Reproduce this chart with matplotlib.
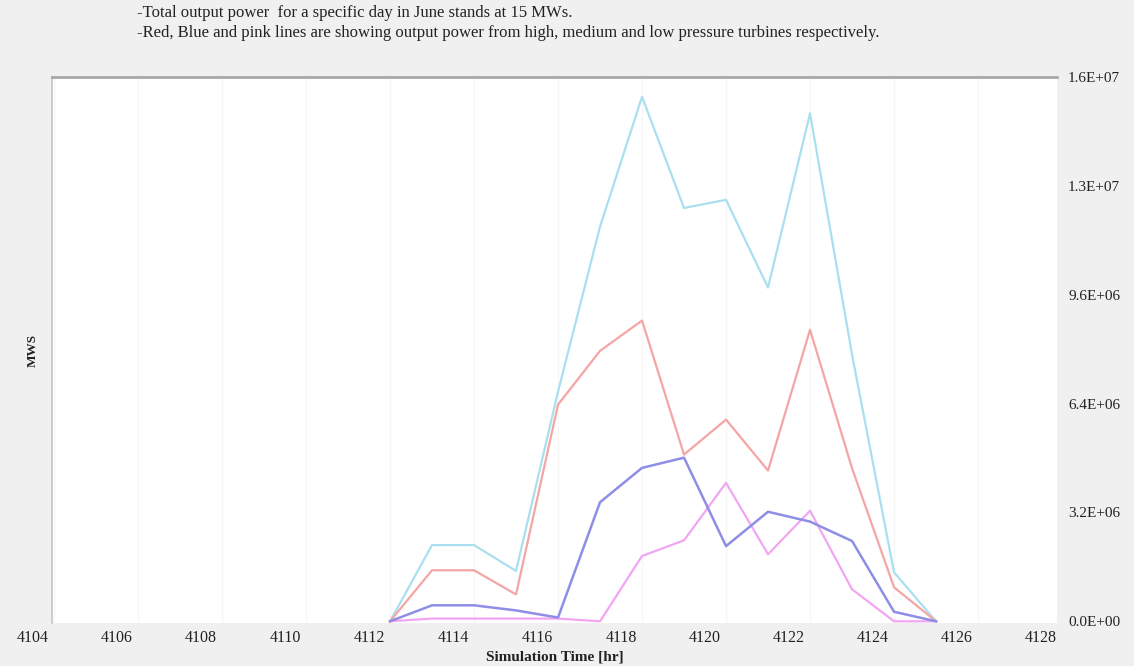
import matplotlib
matplotlib.use("Agg")
import matplotlib.pyplot as plt
import matplotlib.transforms as mtransforms

# Hourly output power (half-hour time stamps), in MW-seconds
hours = [4112.5, 4113.5, 4114.5, 4115.5, 4116.5, 4117.5, 4118.5,
         4119.5, 4120.5, 4121.5, 4122.5, 4123.5, 4124.5, 4125.5]
total_power = [0.0, 2.24e6, 2.24e6, 1.48e6, 6.75e6, 11.6e6, 15.42e6,
               12.15e6, 12.39e6, 9.81e6, 14.93e6, 7.84e6, 1.44e6, 0.0]
high_pressure = [0.0, 1.50e6, 1.50e6, 0.79e6, 6.37e6, 7.95e6, 8.84e6,
                 4.90e6, 5.93e6, 4.43e6, 8.57e6, 4.50e6, 1.00e6, 0.0]
medium_pressure = [0.0, 0.47e6, 0.47e6, 0.32e6, 0.11e6, 3.50e6, 4.51e6,
                   4.81e6, 2.21e6, 3.22e6, 2.93e6, 2.36e6, 0.28e6, 0.0]
low_pressure = [0.0, 0.08e6, 0.08e6, 0.08e6, 0.08e6, 0.0, 1.92e6,
                2.38e6, 4.07e6, 1.97e6, 3.25e6, 0.94e6, 0.0, 0.0]

x_tick_values = [4104, 4106, 4108, 4110, 4112, 4114, 4116,
                 4118, 4120, 4122, 4124, 4126, 4128]
y_tick_values = [0.0, 3.2e6, 6.4e6, 9.6e6, 12.8e6, 16.0e6]

notes = [
    "-Total output power  for a specific day in June stands at 15 MWs.",
    "-Red, Blue and pink lines are showing output power from high, medium and low pressure turbines respectively.",
]

serif = ["Liberation Serif", "DejaVu Serif"]
bg = "#f0f0f0"

fig = plt.figure(figsize=(11.34, 6.66), dpi=100, facecolor=bg)
ax = fig.add_axes([52 / 1134, 43 / 666, 1005 / 1134, 546 / 666])
ax.set_facecolor("white")

# faint vertical guides every two hours
for g in [4104.5 + 2 * k for k in range(12)]:
    ax.axvline(g, color="#f6f6f6", lw=1.0, zorder=0)

ax.plot(hours, total_power, color="#aadff0", lw=1.6, zorder=3)
ax.plot(hours, high_pressure, color="#f4a5a5", lw=1.6, zorder=3)
ax.plot(hours, medium_pressure, color="#8e8ee6", lw=1.8, zorder=4)
ax.plot(hours, low_pressure, color="#f2a6f2", lw=1.6, zorder=3)

ax.set_xlim(4104.452, 4128.38)
ax.set_ylim(-0.05e6, 16.0e6)

for side in ("right", "bottom"):
    ax.spines[side].set_visible(False)
ax.spines["top"].set_color("#a8a8a8")
ax.spines["top"].set_linewidth(2.0)
ax.spines["left"].set_color("#c4c4c4")
ax.spines["left"].set_linewidth(1.2)

ax.set_xticks([])
ax.yaxis.tick_right()
ax.set_yticks(y_tick_values)
ax.set_yticklabels([f"{v:.1E}" for v in y_tick_values], family=serif,
                   fontsize=11, color="#222222")
ax.tick_params(axis="y", length=0, pad=8)
for lbl in ax.get_yticklabels():
    lbl.set_horizontalalignment("left")

# hour labels along the bottom edge
xtrans = mtransforms.blended_transform_factory(ax.transData, ax.transAxes)
for t in x_tick_values:
    ax.text(t, -0.012, str(t), transform=xtrans, ha="center", va="top",
            family=serif, fontsize=11.5, color="#222222", clip_on=False)

fig.text(555 / 1134, 1 - 657 / 666, "Simulation Time [hr]", ha="center",
         va="center", family=serif, fontsize=11, fontweight="bold",
         color="#222222")
fig.text(33 / 1134, 1 - 350 / 666, "MWS", ha="center", va="center",
         rotation=90, family=serif, fontsize=9.5, fontweight="bold",
         color="#222222")

fig.text(137 / 1134, 1 - 13 / 666, notes[0], ha="left", va="center",
         family=serif, fontsize=12, color="#222222")
fig.text(137 / 1134, 1 - 33 / 666, notes[1], ha="left", va="center",
         family=serif, fontsize=12, color="#222222")

fig.savefig("out.png", dpi=100, facecolor=bg)
